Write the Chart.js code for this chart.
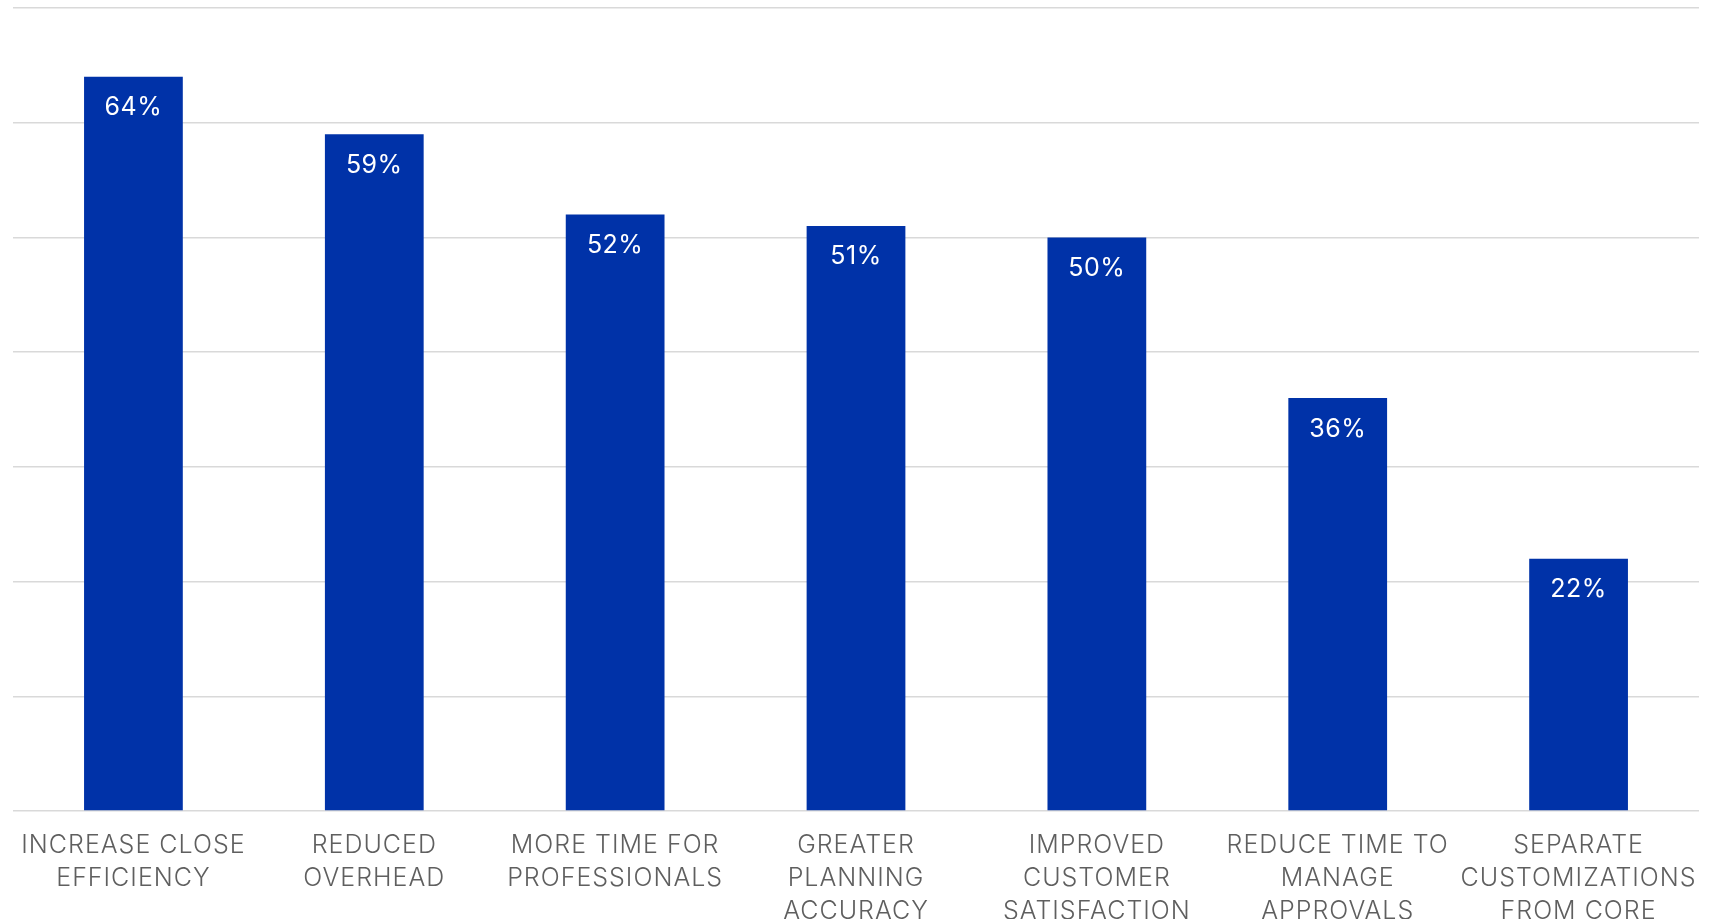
<!DOCTYPE html>
<html>
<head>
<meta charset="utf-8">
<script src="https://cdn.jsdelivr.net/npm/chart.js@4/dist/chart.umd.min.js"></script>
<style>
  html, body { margin: 0; padding: 0; background: #fff; overflow: hidden; }
  #wrap { position: relative; width: 1719px; height: 938px; }
</style>
</head>
<body>
<div id="wrap"><canvas id="benefitChart"></canvas></div>
<script>
// Kategori (label sumbu X, dipecah per baris)
const categories = [
  ['INCREASE CLOSE', 'EFFICIENCY'],
  ['REDUCED', 'OVERHEAD'],
  ['MORE TIME FOR', 'PROFESSIONALS'],
  ['GREATER', 'PLANNING', 'ACCURACY'],
  ['IMPROVED', 'CUSTOMER', 'SATISFACTION'],
  ['REDUCE TIME TO', 'MANAGE', 'APPROVALS'],
  ['SEPARATE', 'CUSTOMIZATIONS', 'FROM CORE']
];

// Nilai persentase tiap kategori
const percentValues = [64, 59, 52, 51, 50, 36, 22];

// Tick sumbu Y (hanya garis grid, tanpa label)
const yTicks = [0, 10, 20, 30, 40, 50, 60, 70];

// Jarak huruf label sumbu X sedikit renggang
const letterSpace = {
  id: 'letterSpace',
  beforeDraw(chart) { chart.ctx.letterSpacing = '1px'; },
  afterDraw(chart) { chart.ctx.letterSpacing = '0px'; }
};

// Plugin kecil untuk menulis nilai di dalam batang
const valueLabels = {
  id: 'valueLabels',
  afterDatasetsDraw(chart) {
    const ctx = chart.ctx;
    const meta = chart.getDatasetMeta(0);
    ctx.save();
    ctx.letterSpacing = '0.5px';
    ctx.font = '400 25px Inter';
    ctx.fillStyle = '#ffffff';
    ctx.textAlign = 'center';
    ctx.textBaseline = 'middle';
    meta.data.forEach((bar, i) => {
      ctx.fillText(percentValues[i] + '%', bar.x, bar.y + 31);
    });
    ctx.restore();
  }
};

const ctx = document.getElementById('benefitChart').getContext('2d');

const benefitChart = new Chart(ctx, {
  type: 'bar',
  data: {
    labels: categories,
    datasets: [{
      data: percentValues,
      backgroundColor: '#0032A8',
      borderWidth: 0,
      categoryPercentage: 0.82,
      barPercentage: 0.5
    }]
  },
  options: {
    responsive: true,
    maintainAspectRatio: false,
    animation: false,
    layout: { padding: { top: 8, left: 13, right: 20, bottom: 0 } },
    plugins: {
      legend: { display: false },
      tooltip: { enabled: false }
    },
    scales: {
      x: {
        grid: { display: false },
        border: { display: false },
        ticks: {
          color: '#5f5f5f',
          font: { family: 'Inter', size: 25, weight: '300', lineHeight: 1.32 },
          padding: 10,
          maxRotation: 0,
          autoSkip: false
        }
      },
      y: {
        min: 0,
        max: 70,
        afterBuildTicks(axis) {
          axis.ticks = yTicks.map(v => ({ value: v }));
        },
        ticks: { display: false },
        border: { display: false },
        grid: { color: '#d9d9d9', lineWidth: 1.5, drawTicks: false }
      }
    }
  },
  plugins: [letterSpace, valueLabels]
});
</script>
</body>
</html>
